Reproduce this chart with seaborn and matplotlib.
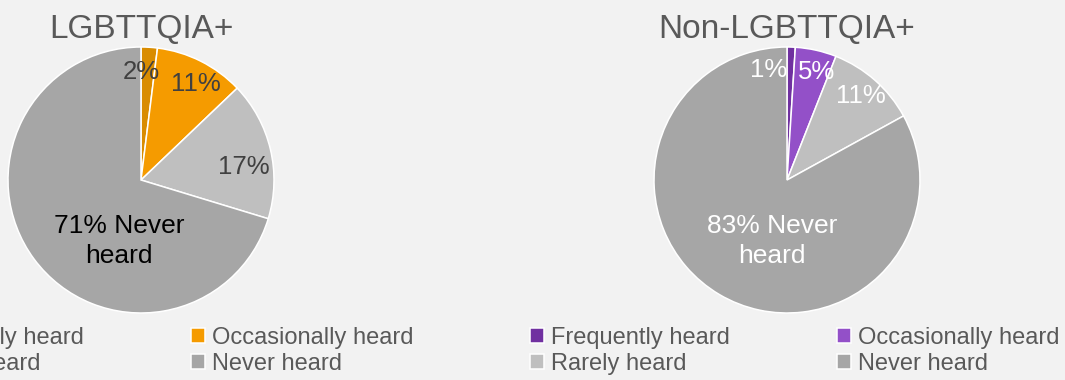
import matplotlib
matplotlib.use('Agg')
import matplotlib.pyplot as plt
import seaborn as sns

sns.set_style("white")
plt.rcParams['font.family'] = ['Liberation Sans', 'DejaVu Sans']

# Data
categories = ['Frequently heard', 'Occasionally heard', 'Rarely heard', 'Never heard']
lgbt_values = [2, 11, 17, 71]
non_lgbt_values = [1, 5, 11, 83]
lgbt_labels = ['2%', '11%', '17%', '71% Never\nheard']
non_lgbt_labels = ['1%', '5%', '11%', '83% Never\nheard']
titles = ['LGBTTQIA+', 'Non-LGBTTQIA+']

lgbt_colors = ['#d98c00', '#f59b00', '#bfbfbf', '#a6a6a6']
non_lgbt_colors = ['#7030a0', '#9350c8', '#bfbfbf', '#a6a6a6']

W, H = 1065, 380
bg = '#f2f2f2'
fig = plt.figure(figsize=(W / 100, H / 100), dpi=100, facecolor=bg)

R = 133  # pie radius in px


def pie_axes(cx, cy):
    ax = fig.add_axes([(cx - R) / W, (H - cy - R) / H, 2 * R / W, 2 * R / H])
    ax.set_facecolor(bg)
    return ax


# label positions (data units of the pie axes) and colors
lgbt_pos = [(0.0, 0.81), (0.41, 0.72), (0.77, 0.10), (-0.165, -0.46)]
non_pos = [(-0.135, 0.83), (0.22, 0.815), (0.556, 0.63), (-0.11, -0.46)]
lgbt_text_colors = ['#404040', '#404040', '#404040', '#000000']

panels = [
    (141, lgbt_values, lgbt_colors, lgbt_labels, lgbt_pos, lgbt_text_colors, titles[0], -116),
    (787, non_lgbt_values, non_lgbt_colors, non_lgbt_labels, non_pos, ['white'] * 4, titles[1], 530),
]

for cx, vals, cols, labs, pos, tcols, title, leg_x in panels:
    ax = pie_axes(cx, 180)
    wedges, _ = ax.pie(vals, colors=cols, startangle=90, counterclock=False,
                       wedgeprops=dict(edgecolor='white', linewidth=1.1))
    ax.set_xlim(-1, 1)
    ax.set_ylim(-1, 1)
    for (x, y), lab, tc in zip(pos, labs, tcols):
        fs = 19 if '\n' in lab else 18.5
        ax.text(x, y, lab, ha='center', va='center', fontsize=fs, color=tc,
                linespacing=1.3, multialignment='center')
    fig.text(cx / W, (H - 38) / H, title, ha='center', va='baseline',
             fontsize=24, color='#595959')
    # ncol=2 fills column-wise, so reorder to match the reference layout
    order = [0, 2, 1, 3]
    leg = fig.legend([wedges[i] for i in order], [categories[i] for i in order],
                     ncol=2, loc='upper left', bbox_to_anchor=(leg_x / W, (H - 327) / H),
                     frameon=False, fontsize=17, handlelength=0.6, handleheight=0.6,
                     handletextpad=0.29, columnspacing=4.55, labelspacing=0.18,
                     borderpad=0, borderaxespad=0)
    for t in leg.get_texts():
        t.set_color('#595959')

fig.savefig('out.png', dpi=100, facecolor=bg)
